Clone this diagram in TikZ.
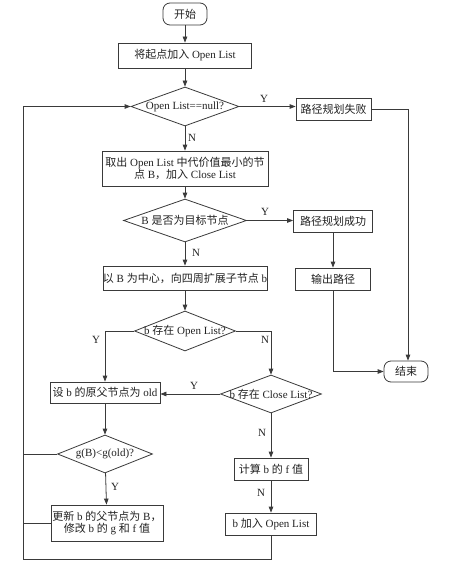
\documentclass[tikz,border=0pt]{standalone}
\usepackage{fontspec}
\setmainfont{Liberation Serif}
\newfontfamily\cjk{Noto Sans CJK SC}
\usetikzlibrary{shapes.geometric,arrows.meta}
\definecolor{ln}{HTML}{3A3A3A}
\definecolor{tx}{HTML}{222222}
\tikzset{
  base/.style={draw=ln, line width=0.8pt, text=tx, font=\fontsize{11}{12.5}\selectfont, inner sep=0pt},
  box/.style={base, rectangle, align=center},
  term/.style={base, rectangle, rounded corners=7pt},
  dia/.style={base, diamond},
  arr/.style={draw=ln, line width=0.8pt, -{Triangle[length=6pt,width=4.5pt]}},
  ln/.style={draw=ln, line width=0.8pt},
  lab/.style={text=tx, font=\fontsize{11}{12.5}\selectfont, inner sep=0pt}
}
\begin{document}
\begin{tikzpicture}[x=1pt,y=-1pt]
\useasboundingbox[fill=white] (0,0) rectangle (450,567);
% nodes
\node[term, minimum width=44pt, minimum height=22pt] (start) at (185,14) {\cjk 开始};
\node[box, minimum width=133pt, minimum height=25pt] (b1) at (185,55.5) {{\cjk 将起点加入} Open List};
\node[dia, minimum width=108pt, minimum height=39pt, label={[lab]center:Open List==null?}] (d1) at (185,106.5) {};
\node[box, minimum width=75pt, minimum height=22pt] (fail) at (333.5,109) {\cjk 路径规划失败};
\node[box, minimum width=166pt, minimum height=35pt] (b2) at (185,168.5) {{\cjk 取出} Open List {\cjk 中代价值最小的节}\\{\cjk 点} B{\cjk ，加入} Close List};
\node[dia, minimum width=123pt, minimum height=43pt, label={[lab]center:B {\cjk 是否为目标节点}}] (d2) at (185,220.5) {};
\node[box, minimum width=79pt, minimum height=22pt] (succ) at (333,221) {\cjk 路径规划成功};
\node[box, minimum width=75pt, minimum height=22pt] (out) at (333,279) {\cjk 输出路径};
\node[term, minimum width=44pt, minimum height=21pt] (endn) at (406,371.5) {\cjk 结束};
\node[box, minimum width=164pt, minimum height=24pt] (b3) at (185,278) {{\cjk 以} B {\cjk 为中心，向四周扩展子节点} b};
\node[dia, minimum width=101pt, minimum height=40pt, label={[lab]center:b {\cjk 存在} Open List?}] (d3) at (185,331) {};
\node[box, minimum width=110pt, minimum height=21pt] (b4) at (105,392.5) {{\cjk 设} b {\cjk 的原父节点为} old};
\node[dia, minimum width=101pt, minimum height=38pt, label={[lab]center:b {\cjk 存在} Close List?}] (d4) at (271,394) {};
\node[dia, minimum width=95pt, minimum height=38pt, label={[lab]center:g(B)<g(old)?}] (d5) at (105,454) {};
\node[box, minimum width=112pt, minimum height=36pt] (b6) at (107,523) {{\cjk 更新} b {\cjk 的父节点为} B{\cjk ，}\\{\cjk 修改} b {\cjk 的} g {\cjk 和} f {\cjk 值}};
\node[box, minimum width=74pt, minimum height=22pt] (calc) at (271,469) {{\cjk 计算} b {\cjk 的} f {\cjk 值}};
\node[box, minimum width=91pt, minimum height=22pt] (add) at (271,524) {b {\cjk 加入} Open List};
\coordinate (lb) at (23,559);
\coordinate (lt) at (23,106.5);
% connectors
\draw[arr] (start) -- (b1);
\draw[arr] (b1) -- (d1);
\draw[arr] (d1.east) -- (d1.east -| fail.west);
\draw[arr] (fail.east) -| ([xshift=2pt]endn.north);
\draw[arr] (d1) -- (b2);
\draw[arr] (b2) -- (d2);
\draw[arr] (d2.east) -- (d2.east -| succ.west);
\draw[arr] (succ) -- (out);
\draw[arr] (out.south) |- (endn.west);
\draw[arr] (d2) -- (b3);
\draw[arr] (b3) -- (d3);
\draw[arr] (d3.west) -| (b4.north);
\draw[arr] (d3.east) -| (d4.north);
\draw[arr] (d4.west) -- (d4.west -| b4.east);
\draw[arr] (b4) -- (d5);
\draw[arr] (d5) -- (b6);
\draw[arr] (d4) -- (calc);
\draw[arr] (calc) -- (add);
\draw[arr] (add.south) |- (lb) -- (lt) -- (d1.west);
\draw[ln] (d5.west) -- (d5.west -| lb);
\draw[ln] (b6.west) -- (b6.west -| lb);
% labels
\node[lab] (y1) at (264,99) {Y};
\node[lab] (n1) at (192,138) {N};
\node[lab] (y2) at (265,212) {Y};
\node[lab] (n2) at (196,253) {N};
\node[lab] (y3) at (96,340) {Y};
\node[lab] (n3) at (265,340) {N};
\node[lab] (y4) at (194,386) {Y};
\node[lab] (n4) at (262,433) {N};
\node[lab] (y5) at (115,487) {Y};
\node[lab] (n5) at (261,493) {N};
\end{tikzpicture}
\end{document}
